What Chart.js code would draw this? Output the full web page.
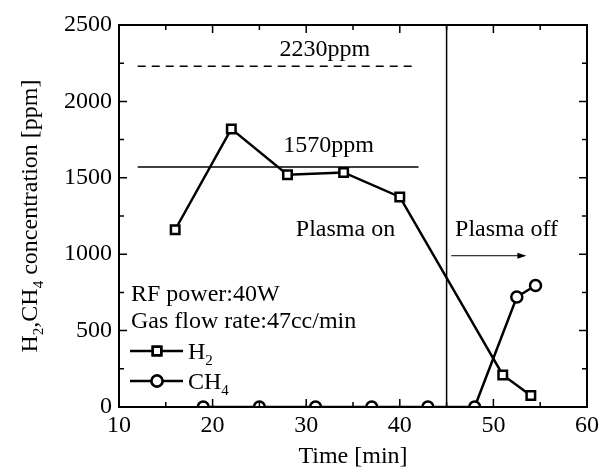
<!DOCTYPE html>
<html>
<head>
<meta charset="utf-8">
<script src="https://cdn.jsdelivr.net/npm/chart.js@4/dist/chart.umd.min.js"></script>
<style>
  html, body { margin: 0; padding: 0; background: #fff; }
  #wrap { width: 608px; height: 469px; }
</style>
</head>
<body>
<div id="wrap"><canvas id="c" width="608" height="469"></canvas></div>
<script>
// data
const h2Time  = [16, 22, 28, 34, 40, 51, 54];
const h2Conc  = [1160, 1820, 1520, 1535, 1375, 210, 75];
const ch4Time = [19, 25, 31, 37, 43, 48, 52.5, 54.5];
const ch4Conc = [0, 0, 0, 0, 0, 0, 720, 795];

const xTickValues = [10, 20, 30, 40, 50, 60];
const yTickValues = [0, 500, 1000, 1500, 2000, 2500];

// reference lines / markers
const dashedRefX = [12, 41.3], dashedRefY = 2230;
const solidRefX  = [12, 42],   solidRefY  = 1570;
const plasmaOffTime = 45;
const arrowX = [45.5, 53.2], arrowY = 990;

const FONT = "'Liberation Serif', 'Times New Roman', serif";

const toPts = (xs, ys) => xs.map((x, i) => ({ x: x, y: Array.isArray(ys) ? ys[i] : ys }));

// text with subscripts: parts = [[text, isSub], ...]
function drawParts(ctx, parts, x, y, align) {
  const big = '24px ' + FONT, small = '15px ' + FONT;
  let w = 0;
  parts.forEach(p => { ctx.font = p[1] ? small : big; w += ctx.measureText(p[0]).width; });
  let cx = align === 'center' ? x - w / 2 : x;
  ctx.textBaseline = 'alphabetic';
  ctx.textAlign = 'left';
  parts.forEach(p => {
    ctx.font = p[1] ? small : big;
    ctx.fillText(p[0], cx, p[1] ? y + 6 : y);
    cx += ctx.measureText(p[0]).width;
  });
}

const decorations = {
  id: 'decorations',
  afterDatasetsDraw(chart) {
    const ctx = chart.ctx, a = chart.chartArea;
    const xs = chart.scales.x, ys = chart.scales.y;
    ctx.save();
    ctx.strokeStyle = '#000';
    ctx.fillStyle = '#000';

    // frame
    ctx.lineWidth = 2;
    ctx.strokeRect(a.left, a.top, a.right - a.left, a.bottom - a.top);

    // inward ticks on all four sides
    ctx.lineWidth = 1.5;
    ctx.beginPath();
    for (let v = 15; v < 60; v += 5) {
      const px = xs.getPixelForValue(v), len = v % 10 === 0 ? 8 : 5;
      ctx.moveTo(px, a.bottom); ctx.lineTo(px, a.bottom - len);
      ctx.moveTo(px, a.top); ctx.lineTo(px, a.top + len);
    }
    for (let v = 250; v < 2500; v += 250) {
      const py = ys.getPixelForValue(v), len = v % 500 === 0 ? 8 : 5;
      ctx.moveTo(a.left, py); ctx.lineTo(a.left + len, py);
      ctx.moveTo(a.right, py); ctx.lineTo(a.right - len, py);
    }
    ctx.stroke();

    // arrow head
    const ax = xs.getPixelForValue(arrowX[1]), ay = ys.getPixelForValue(arrowY);
    ctx.beginPath();
    ctx.moveTo(ax + 3, ay);
    ctx.lineTo(ax - 6, ay - 3);
    ctx.lineTo(ax - 6, ay + 3);
    ctx.closePath();
    ctx.fill();

    // annotations
    ctx.font = '24px ' + FONT;
    ctx.textBaseline = 'middle';
    ctx.textAlign = 'center';
    ctx.fillText('2230ppm', xs.getPixelForValue(32.0), ys.getPixelForValue(2340));
    ctx.fillText('1570ppm', xs.getPixelForValue(32.4), ys.getPixelForValue(1712));
    ctx.fillText('Plasma on', xs.getPixelForValue(34.2), ys.getPixelForValue(1160));
    ctx.fillText('Plasma off', xs.getPixelForValue(51.4), ys.getPixelForValue(1160));
    ctx.textAlign = 'left';
    ctx.fillText('RF power:40W', a.left + 12, ys.getPixelForValue(735));
    ctx.fillText('Gas flow rate:47cc/min', a.left + 12, ys.getPixelForValue(555));

    // legend
    const legendRows = [
      { ds: chart.data.datasets[0], y: a.top + 326, label: [['H', false], ['2', true]] },
      { ds: chart.data.datasets[1], y: a.top + 356, label: [['CH', false], ['4', true]] }
    ];
    legendRows.forEach(r => {
      ctx.lineWidth = 2.5;
      ctx.beginPath();
      ctx.moveTo(a.left + 11, r.y); ctx.lineTo(a.left + 64, r.y);
      ctx.stroke();
      Chart.helpers.drawPoint(ctx, {
        pointStyle: r.ds.pointStyle, radius: r.ds.pointRadius, borderWidth: 2.5
      }, a.left + 38, r.y);
      ctx.fillStyle = '#fff';
      ctx.fill();
      ctx.stroke();
      ctx.fillStyle = '#000';
      drawParts(ctx, r.label, a.left + 69, r.y + 8, 'left');
    });

    // axis titles
    ctx.textAlign = 'center';
    ctx.font = '24px ' + FONT;
    ctx.textBaseline = 'middle';
    ctx.fillText('Time [min]', (a.left + a.right) / 2, 457);
    ctx.save();
    ctx.translate(37, (a.top + a.bottom) / 2);
    ctx.rotate(-Math.PI / 2);
    drawParts(ctx, [['H', false], ['2', true], [',CH', false], ['4', true], [' concentration [ppm]', false]], 0, 0, 'center');
    ctx.restore();

    ctx.restore();
  }
};

new Chart(document.getElementById('c'), {
  type: 'line',
  data: {
    datasets: [
      {
        label: 'H2', data: toPts(h2Time, h2Conc),
        borderColor: '#000', borderWidth: 2.5,
        pointStyle: 'rect', pointRadius: 6, pointBorderWidth: 2.5,
        pointBackgroundColor: '#fff', pointBorderColor: '#000'
      },
      {
        label: 'CH4', data: toPts(ch4Time, ch4Conc), clip: 0,
        borderColor: '#000', borderWidth: 2.5,
        pointStyle: 'circle', pointRadius: 5.5, pointBorderWidth: 2.5,
        pointBackgroundColor: '#fff', pointBorderColor: '#000'
      },
      {
        data: toPts(dashedRefX, dashedRefY), borderColor: '#000', borderWidth: 1.5,
        borderDash: [8, 6], pointRadius: 0
      },
      {
        data: toPts(solidRefX, solidRefY), borderColor: '#000', borderWidth: 1.5, pointRadius: 0
      },
      {
        data: [{ x: plasmaOffTime, y: 0 }, { x: plasmaOffTime, y: 2500 }],
        borderColor: '#000', borderWidth: 1.5, pointRadius: 0
      },
      {
        data: toPts(arrowX, arrowY), borderColor: '#000', borderWidth: 1, pointRadius: 0
      }
    ]
  },
  options: {
    responsive: false,
    animation: false,
    events: [],
    layout: { padding: { top: 25, right: 21, left: 0, bottom: 0 } },
    plugins: { legend: { display: false }, tooltip: { enabled: false } },
    scales: {
      x: {
        type: 'linear', min: 10, max: 60,
        afterBuildTicks: s => { s.ticks = xTickValues.map(v => ({ value: v })); },
        afterFit: s => { s.height = 62; },
        grid: { display: false, drawTicks: false },
        border: { display: false },
        ticks: { padding: 4, color: '#000', font: { family: FONT, size: 24 }, callback: v => String(v) }
      },
      y: {
        type: 'linear', min: 0, max: 2500,
        afterBuildTicks: s => { s.ticks = yTickValues.map(v => ({ value: v })); },
        afterFit: s => { s.width = 119; },
        grid: { display: false, drawTicks: false },
        border: { display: false },
        ticks: { padding: 7, color: '#000', font: { family: FONT, size: 24 }, callback: v => String(v) }
      }
    }
  },
  plugins: [decorations]
});
</script>
</body>
</html>
